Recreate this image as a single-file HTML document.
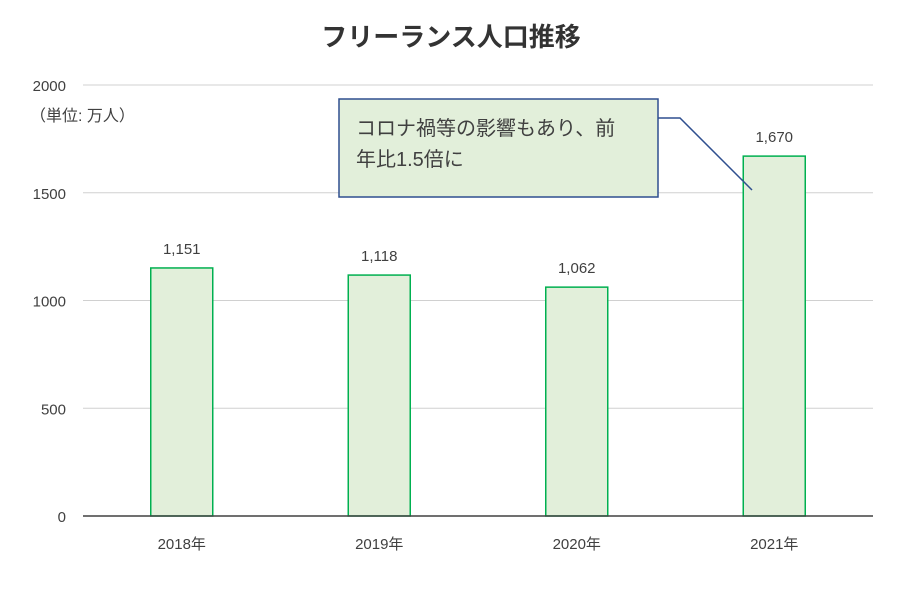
<!DOCTYPE html>
<html><head><meta charset="utf-8"><style>
html,body{margin:0;padding:0;background:#fff;}
svg text{font-family:"Liberation Sans","Noto Sans CJK JP",sans-serif;}
</style></head><body>
<svg id="chart" width="902" height="594" viewBox="0 0 902 594">
<rect width="902" height="594" fill="#fff"/>
<text x="451" y="46" text-anchor="middle" font-size="26" font-weight="bold" fill="#333">フリーランス人口推移</text>
<text x="30" y="121" font-size="16" fill="#404040">（単位: 万人）</text>
<g id="grid"></g><g id="bars"></g>
<line x1="83" y1="516" x2="873" y2="516" stroke="#404040" stroke-width="1.5"/>
<g id="labels"></g>
<polyline points="658,118 680,118 752,190" fill="none" stroke="#2f4f8f" stroke-width="1.5"/>
<rect x="339" y="99" width="319" height="98" fill="#e2efda" stroke="#2f4f8f" stroke-width="1.5"/>
<text x="356" y="135" font-size="20" fill="#404040">コロナ禍等の影響もあり、前</text>
<text x="356" y="166" font-size="20" fill="#404040">年比1.5倍に</text>
</svg>
<script>
const categories=["2018年","2019年","2020年","2021年"];
const values=[1151,1118,1062,1670];
const valueLabels=["1,151","1,118","1,062","1,670"];
const yTicks=[0,500,1000,1500,2000];
const ns="http://www.w3.org/2000/svg";
const x0=83,x1=873,y0=516,y1=85,yMax=2000;
const yS=v=>y0-(v/yMax)*(y0-y1);
const band=(x1-x0)/categories.length;
const xC=i=>x0+band*(i+0.5);
const bw=62;
function mk(t,a,p){const e=document.createElementNS(ns,t);for(const k in a)e.setAttribute(k,a[k]);p.appendChild(e);return e;}
const g=document.getElementById('grid'),b=document.getElementById('bars'),l=document.getElementById('labels');
yTicks.forEach(v=>{
 if(v>0){const ln=mk('line',{x1:x0,x2:x1,y1:yS(v),y2:yS(v),stroke:'#d0d0d0','stroke-width':1},g);
 
 }
 const t=mk('text',{x:66,y:yS(v)+6,'text-anchor':'end','font-size':15,fill:'#404040'},l);
 t.textContent=v;
 
 
});
categories.forEach((c,i)=>{
 const r=mk('rect',{x:xC(i)-bw/2,y:yS(values[i]),width:bw,height:y0-yS(values[i]),fill:'#e2efda',stroke:'#00b050','stroke-width':1.5},b);
 
 
 const vt=mk('text',{x:xC(i),y:yS(values[i])-14,'text-anchor':'middle','font-size':15,fill:'#404040'},l);
 vt.textContent=valueLabels[i];
 
 
 const xt=mk('text',{x:xC(i),y:549,'text-anchor':'middle','font-size':15,fill:'#404040'},l);
 xt.textContent=c;
 
 
});
</script>
</body></html>
